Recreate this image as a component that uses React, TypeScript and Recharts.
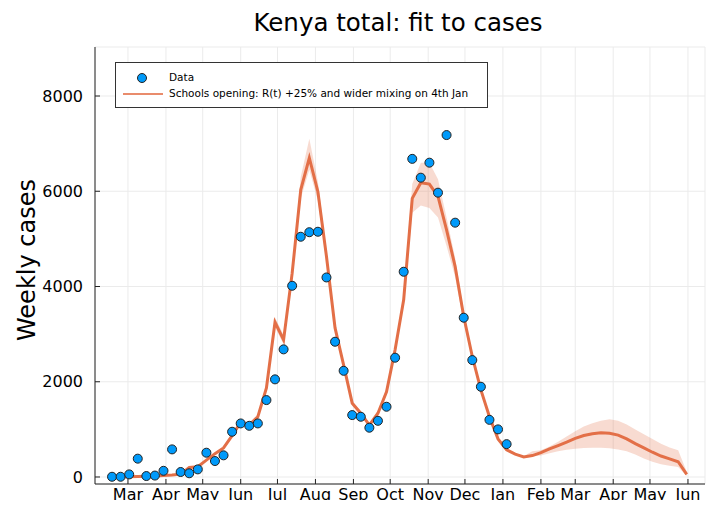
import React from 'react';
import { ComposedChart, Line, Area, XAxis, YAxis, CartesianGrid } from 'recharts';

// weekly series, first week starting 17 Feb 2020
const firstWeek = '2020-02-17';

const weeklyCases = [
  5, 5, 55, 385, 20, 30, 130, 580, 105, 78, 160, 510, 335, 455, 950, 1125,
  1075, 1125, 1615, 2050, 2680, 4015, 5045, 5140, 5150, 4190, 2840, 2230,
  1300, 1265, 1035, 1180, 1475, 2505, 4310, 6680, 6285, 6600, 5970, 7180,
  5340, 3345, 2455, 1895, 1200, 1000, 690,
];

const fitMid = [
  0, 0, 5, 10, 15, 20, 30, 40, 60, 200,
  215, 355, 490, 610, 870, 1150, 1090, 1265, 1870, 3250,
  2880, 4280, 6030, 6700, 5990, 4630, 3130, 2350, 1550, 1340,
  1090, 1340, 1790, 2670, 3720, 5850, 6180, 6150, 5890, 5190,
  4420, 3370, 2530, 1830, 1265, 800, 570, 480, 420, 450,
  510, 590, 660, 730, 810, 870, 910, 930, 920, 880,
  800, 700, 610, 520, 440, 380, 320, 55,
];

const fitLow = [
  0, 0, 0, 5, 10, 15, 25, 35, 50, 185,
  200, 335, 465, 580, 830, 1100, 1040, 1210, 1800, 3150,
  2780, 4150, 5850, 6450, 5800, 4500, 3040, 2280, 1500, 1300,
  1050, 1290, 1730, 2600, 3600, 5550, 5700, 5650, 5450, 4850,
  4200, 3250, 2450, 1770, 1220, 770, 550, 465, 405, 430,
  450, 500, 540, 570, 595, 610, 615, 615, 605, 580,
  540, 470, 390, 320, 270, 235, 210, 20,
];

const fitHigh = [
  0, 0, 10, 15, 20, 25, 35, 45, 70, 215,
  230, 375, 515, 640, 910, 1200, 1140, 1320, 1950, 3350,
  2980, 4400, 6300, 7100, 6200, 4750, 3220, 2420, 1600, 1380,
  1130, 1390, 1850, 2750, 3850, 6150, 6600, 6600, 6250, 5450,
  4600, 3480, 2610, 1890, 1310, 830, 590, 500, 440, 540,
  560, 640, 740, 850, 960, 1060, 1130, 1180, 1210, 1180,
  1100, 1000, 900, 800, 700, 620, 560, 110,
];

const monthTicks = [
  '2020-03-01', '2020-04-01', '2020-05-01', '2020-06-01', '2020-07-01', '2020-08-01',
  '2020-09-01', '2020-10-01', '2020-11-01', '2020-12-01', '2021-01-01', '2021-02-01',
  '2021-03-01', '2021-04-01', '2021-05-01', '2021-06-01',
];
const monthLabels = [
  'Mar', 'Apr', 'May', 'Jun', 'Jul', 'Aug', 'Sep', 'Oct', 'Nov', 'Dec',
  'Jan', 'Feb', 'Mar', 'Apr', 'May', 'Jun',
];

const yTicks = [0, 2000, 4000, 6000, 8000];

const DAY = 86400000;
const origin = Date.parse('2020-03-01');
const toDay = (s: string) => Math.round((Date.parse(s) - origin) / DAY);

const start = toDay(firstWeek);
const rows = fitMid.map((v, i) => ({
  t: start + 7 * i,
  cases: i < weeklyCases.length ? weeklyCases[i] : null,
  fit: v,
  band: [fitLow[i], fitHigh[i]],
}));

const tickDays = monthTicks.map(toDay);
const labelFor = (d: number) => monthLabels[tickDays.indexOf(d)] ?? '';

const FONT = '"DejaVu Sans", sans-serif';
const BLUE = '#009AFA';
const ORANGE = '#E36F47';

export default function App() {
  return (
    <div style={{ position: 'relative', width: 715, height: 508, margin: -8, fontFamily: FONT, background: '#fff' }}>
      <div style={{ position: 'absolute', left: 95, width: 606, top: 9, textAlign: 'center', fontSize: 24.5, lineHeight: '28px', color: '#000' }}>
        Kenya total: fit to cases
      </div>

      <ComposedChart
        width={715}
        height={508}
        data={rows}
        margin={{ top: 47, right: 10, bottom: 0, left: 35 }}
        style={{ fontFamily: FONT }}
      >
        <CartesianGrid stroke="#ebebeb" strokeWidth={1} />
        <XAxis
          dataKey="t"
          type="number"
          domain={[-26.9, 470.9]}
          allowDataOverflow
          ticks={tickDays}
          tickFormatter={labelFor}
          height={24}
          stroke="#222"
          tickSize={-5}
          tickMargin={10}
          tick={{ fill: '#000', fontSize: 16 }}
        />
        <YAxis
          type="number"
          domain={[-147, 9029]}
          allowDataOverflow
          ticks={yTicks}
          width={60}
          stroke="#222"
          tickSize={-5}
          tickMargin={17}
          tick={{ fill: '#000', fontSize: 16 }}
          label={{
            content: () => (
              <text x={27} y={260} transform="rotate(-90 27 260)" textAnchor="middle" dominantBaseline="central" fontSize={24} fill="#000">
                Weekly cases
              </text>
            ),
          }}
        />
        <Line
          dataKey="cases"
          stroke="none"
          isAnimationActive={false}
          dot={{ r: 4.5, fill: BLUE, stroke: '#222', strokeWidth: 1 }}
          activeDot={false}
        />
        <Area
          dataKey="band"
          stroke="none"
          fill={ORANGE}
          fillOpacity={0.25}
          isAnimationActive={false}
          activeDot={false}
        />
        <Line
          dataKey="fit"
          type="linear"
          stroke={ORANGE}
          strokeWidth={3}
          dot={false}
          activeDot={false}
          isAnimationActive={false}
        />
      </ComposedChart>

      <div
        style={{
          position: 'absolute', left: 115, top: 62, width: 371, height: 44,
          border: '1px solid #333', background: '#fff', fontSize: 10.5, color: '#000',
        }}
      >
        <div style={{ position: 'absolute', left: 21, top: 10, width: 10, height: 10, borderRadius: '50%', background: BLUE, border: '1px solid #222', boxSizing: 'border-box' }} />
        <div style={{ position: 'absolute', left: 53, top: 8 }}>Data</div>
        <div style={{ position: 'absolute', left: 7, top: 30, width: 40, height: 2, background: ORANGE, opacity: 0.8 }} />
        <div style={{ position: 'absolute', left: 53, top: 24 }}>Schools opening: R(t) +25% and wider mixing on 4th Jan</div>
      </div>
    </div>
  );
}
